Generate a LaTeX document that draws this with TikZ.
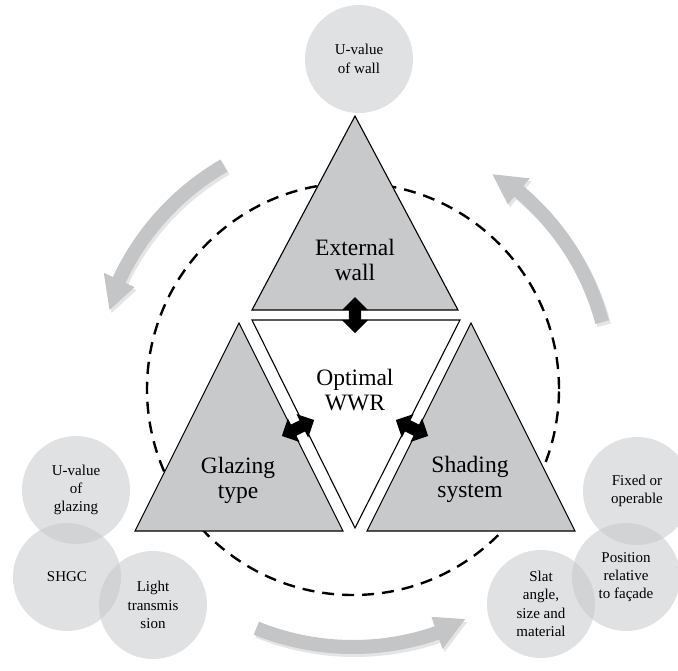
\documentclass[tikz,border=0pt]{standalone}
\usepackage{fontspec}
\setmainfont{Liberation Serif}
\usetikzlibrary{shapes.arrows}
\definecolor{trifill}{RGB}{200,201,203}
\definecolor{arrowgray}{RGB}{196,197,199}
\definecolor{bubble}{RGB}{199,200,202}
\begin{document}
\begin{tikzpicture}[x=1pt,y=1pt,
  tri/.style={draw=black, line width=1.1pt, fill=trifill, line join=miter},
  inner/.style={draw=black, line width=1.1pt, fill=white, line join=miter},
  bub/.style={circle, fill=bubble, fill opacity=0.55, text opacity=1, minimum size=108pt, inner sep=0pt, align=center, font=\fontsize{15}{18.3}\selectfont},
  big/.style={align=center, font=\fontsize{23.5}{25}\selectfont},
  dbl/.style={double arrow, fill=black, inner sep=6pt, minimum height=36pt, double arrow head extend=7pt},
  garrow/.style={fill=arrowgray},
  gshadow/.style={fill=black, fill opacity=0.10}
]
\useasboundingbox (0,0) rectangle (678,-670);
\coordinate (O) at (353,-389);
\draw[line width=2.4pt, dash pattern=on 12pt off 8pt] (O) circle[radius=206];

% gray circular arrows
\begin{scope}[shift={(O)}]
  \foreach \dx/\dy/\st in {2/-3/gshadow, 0/0/garrow}{
  \begin{scope}[shift={(\dx,\dy)}]
  \fill[\st] (120:265) arc[start angle=120,end angle=155,radius=265] -- (155:275) -- (162:256) -- (155:241) -- (155:251) arc[start angle=155,end angle=120,radius=251] -- cycle;
  \fill[\st] (15:265) arc[start angle=15,end angle=50,radius=265] -- (50:275) -- (57:256) -- (50:241) -- (50:251) arc[start angle=50,end angle=15,radius=251] -- cycle;
  \fill[\st] (248:265) arc[start angle=248,end angle=289,radius=265] -- (289:275) -- (296:256) -- (289:241) -- (289:251) arc[start angle=289,end angle=248,radius=251] -- cycle;
  \end{scope}}
\end{scope}

% triangles
\draw[tri] (355,-116) -- (458,-310) -- (252,-310) -- cycle;
\draw[tri] (239,-323) -- (343,-531) -- (135,-531) -- cycle;
\draw[tri] (471,-323) -- (575,-531) -- (367,-531) -- cycle;
\draw[inner] (252,-320) -- (460,-320) -- (355,-528) -- cycle;

\node[big] (ext) at (355,-260) {External\\wall};
\node[big] (opt) at (355,-390) {Optimal\\WWR};
\node[big] (glz) at (238,-480) {Glazing\\type};
\node[big] (shd) at (470,-479) {Shading\\system};

% double arrows
\node[dbl, rotate=90] (a1) at (355,-315) {};
\node[dbl, rotate=26.4] (a2) at (298,-428) {};
\node[dbl, rotate=-26.4] (a3) at (412,-428) {};

% bubbles
\node[bub] (uwall) at (359,-59) {U-value\\of wall};
\node[bub] (uglz) at (76,-490) {U-value\\of\\glazing};
\node[bub] (shgc) at (67,-577) {SHGC};
\node[bub] (light) at (153,-605) {Light\\transmis\\sion};
\node[bub] (fixed) at (637,-491) {Fixed or\\operable};
\node[bub] (pos) at (626,-577) {Position\\relative\\to façade};
\node[bub] (slat) at (541,-604) {Slat\\angle,\\size and\\material};
\end{tikzpicture}
\end{document}
